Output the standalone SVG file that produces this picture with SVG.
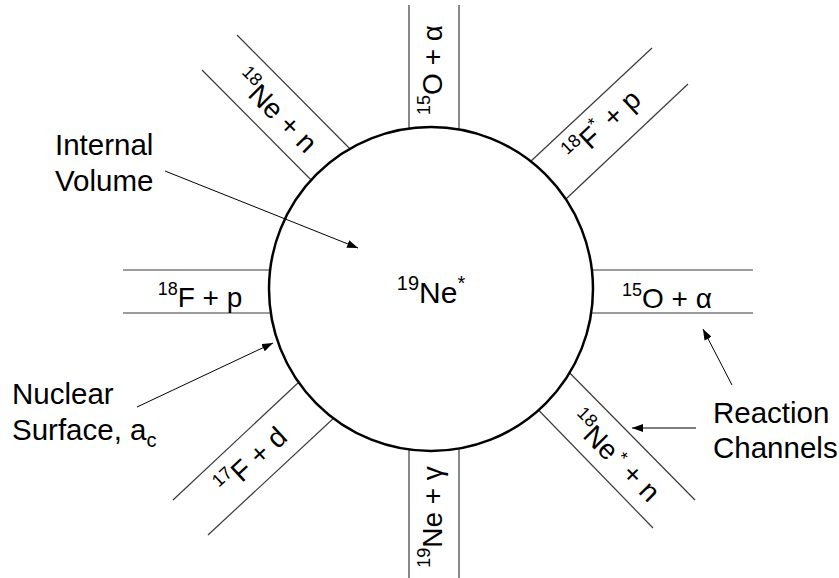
<svg xmlns="http://www.w3.org/2000/svg" width="839" height="578" viewBox="0 0 839 578">
<style>
.ch{stroke:#3a3a3a;stroke-width:1.2;fill:none}
.lbl{font-family:"Liberation Sans",Arial,sans-serif;font-size:28px;fill:#000}
.ann{font-family:"Liberation Sans",Arial,sans-serif;font-size:29.5px;fill:#000}
.sup{font-size:18px}
.arr{stroke:#000;stroke-width:1;fill:none;marker-end:url(#ah)}
</style>
<defs>
<marker id="ah" markerWidth="11" markerHeight="8" refX="11" refY="4" orient="auto" markerUnits="userSpaceOnUse">
<path d="M0,0 L11,4 L0,8 z" fill="#000"/>
</marker>
</defs>
<rect width="839" height="578" fill="#fff"/>

<g id="ch-top">
<line class="ch" x1="409" y1="5" x2="409" y2="200"/>
<line class="ch" x1="459" y1="5" x2="459" y2="200"/>
<text class="lbl" text-anchor="middle" transform="translate(442,70) rotate(-90)"><tspan class="sup" dy="-12">15</tspan><tspan dy="12">O + α</tspan></text>
</g>

<g id="ch-bottom">
<line class="ch" x1="409" y1="380" x2="409" y2="578"/>
<line class="ch" x1="459" y1="380" x2="459" y2="578"/>
<text class="lbl" text-anchor="middle" transform="translate(442,517) rotate(-90)"><tspan class="sup" dy="-12">19</tspan><tspan dy="12">Ne + γ</tspan></text>
</g>

<g id="ch-left">
<line class="ch" x1="123" y1="270" x2="320" y2="270"/>
<line class="ch" x1="123" y1="313" x2="320" y2="313"/>
<text class="lbl" x="200" y="307" text-anchor="middle"><tspan class="sup" dy="-12">18</tspan><tspan dy="12">F + p</tspan></text>
</g>

<g id="ch-right">
<line class="ch" x1="540" y1="270" x2="753" y2="270"/>
<line class="ch" x1="540" y1="313" x2="753" y2="313"/>
<text class="lbl" x="667" y="308" text-anchor="middle"><tspan class="sup" dy="-12">15</tspan><tspan dy="12">O + α</tspan></text>
</g>

<g id="ch-upper-left">
<line class="ch" x1="202" y1="70" x2="330" y2="199"/>
<line class="ch" x1="237" y1="35" x2="370" y2="169"/>
<text class="lbl" text-anchor="middle" transform="translate(269,118) rotate(45)"><tspan class="sup" dy="-12">18</tspan><tspan dy="12">Ne + n</tspan></text>
</g>

<g id="ch-upper-right">
<line class="ch" x1="652" y1="48" x2="515" y2="176"/>
<line class="ch" x1="688" y1="84" x2="550" y2="214"/>
<text class="lbl" text-anchor="middle" transform="translate(609,133) rotate(-43)"><tspan class="sup" dy="-12">18</tspan><tspan dy="12">F</tspan><tspan class="sup" dy="-12">*</tspan><tspan dy="12"> + p</tspan></text>
</g>

<g id="ch-lower-left">
<line class="ch" x1="173" y1="500" x2="315" y2="367"/>
<line class="ch" x1="208" y1="535" x2="350" y2="403"/>
<text class="lbl" text-anchor="middle" transform="translate(258,468) rotate(-43)"><tspan class="sup" dy="-12">17</tspan><tspan dy="12">F + d</tspan></text>
</g>

<g id="ch-lower-right">
<line class="ch" x1="555" y1="358" x2="695" y2="500"/>
<line class="ch" x1="520" y1="391" x2="653" y2="528"/>
<text class="lbl" text-anchor="middle" transform="translate(608,463) rotate(45)"><tspan class="sup" dy="-12">18</tspan><tspan dy="12">Ne</tspan><tspan class="sup" dx="4" dy="-8">*</tspan><tspan dy="8"> + n</tspan></text>
</g>

<g id="nucleus">
<circle cx="431" cy="289" r="162" fill="#fff" stroke="#000" stroke-width="2.5"/>
<text class="ann" x="431" y="303" text-anchor="middle" style="font-size:30px"><tspan class="sup" style="font-size:20px" dy="-13">19</tspan><tspan dy="13">Ne</tspan><tspan class="sup" style="font-size:20px" dy="-13">*</tspan></text>
</g>

<g id="label-internal">
<text class="ann" x="55" y="155">Internal</text>
<text class="ann" x="55" y="191">Volume</text>
</g>

<g id="label-surface">
<text class="ann" x="12" y="404">Nuclear</text>
<text class="ann" x="12" y="440">Surface, a<tspan style="font-size:20px" dy="7">c</tspan></text>
</g>

<g id="label-channels">
<text class="ann" x="713" y="423">Reaction</text>
<text class="ann" x="713" y="458">Channels</text>
</g>

<g id="connectors">
<line class="arr" x1="165" y1="171" x2="358" y2="248"/>
<line class="arr" x1="137" y1="407" x2="273" y2="343"/>
<line class="arr" x1="732" y1="385" x2="703" y2="329"/>
<line class="arr" x1="696" y1="428" x2="632" y2="428"/>
</g>
</svg>
